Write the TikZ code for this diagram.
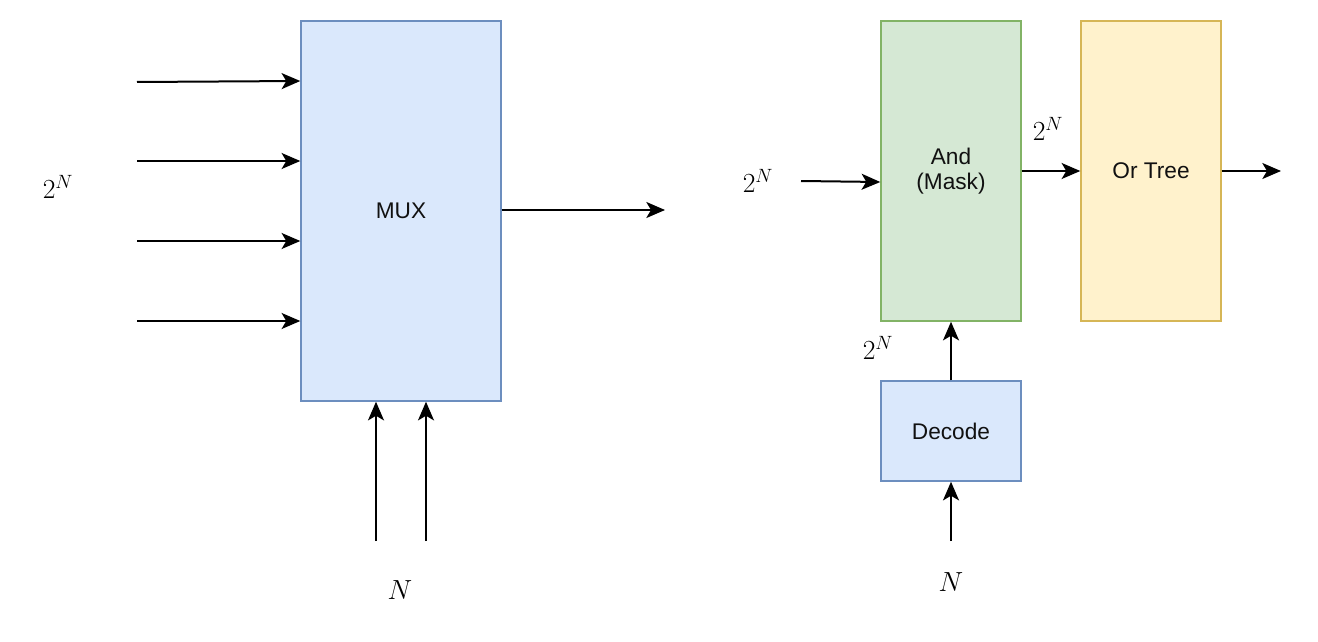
\documentclass[tikz,border=0pt]{standalone}
\usepackage{fontspec}
\setmainfont{Liberation Sans}
\usetikzlibrary{arrows.meta}
\definecolor{bluefill}{HTML}{DAE8FC}
\definecolor{bluedraw}{HTML}{6C8EBF}
\definecolor{greenfill}{HTML}{D5E8D4}
\definecolor{greendraw}{HTML}{82B366}
\definecolor{yellowfill}{HTML}{FFF2CC}
\definecolor{yellowdraw}{HTML}{D6B656}
\definecolor{txt}{HTML}{111111}
\tikzset{
  blk/.style={draw, line width=1.1pt, inner sep=0pt, align=center, text=txt,
    font=\fontsize{17}{20}\selectfont},
  bluebox/.style={blk, fill=bluefill, draw=bluedraw},
  greenbox/.style={blk, fill=greenfill, draw=greendraw},
  yellowbox/.style={blk, fill=yellowfill, draw=yellowdraw},
  arr/.style={line width=1.5pt, -{Stealth[length=14pt,width=12pt,inset=3.5pt]}},
  mlab/.style={inner sep=0pt, font=\fontsize{21}{24}\selectfont},
  nlab/.style={inner sep=0pt, font=\fontsize{21}{24}\selectfont},
}
\begin{document}
\begin{tikzpicture}[x=0.75pt,y=-0.75pt]
\useasboundingbox (0,0) rectangle (1318,642);
% MUX
\node[bluebox, minimum width=200*0.75pt, minimum height=380*0.75pt] (mux) at (401,211) {MUX};
\coordinate (i1) at (137,82);
\coordinate (i2) at (137,161);
\coordinate (i3) at (137,241);
\coordinate (i4) at (137,321);
\draw[arr] (i1) -- (mux.west |- 0,81);
\draw[arr] (i2) -- (mux.west |- i2);
\draw[arr] (i3) -- (mux.west |- i3);
\draw[arr] (i4) -- (mux.west |- i4);
\node[mlab] (l2n) at (58,187) {$2^N$};
\coordinate (mo) at (665,210);
\draw[arr] (mux.east |- mo) -- (mo);
\coordinate (s1) at (376,541);
\coordinate (s2) at (426,541);
\draw[arr] (s1) -- (s1 |- mux.south);
\draw[arr] (s2) -- (s2 |- mux.south);
\node[nlab] (ln1) at (400,590) {$N$};
% right part
\node[greenbox, minimum width=140*0.75pt, minimum height=300*0.75pt] (and) at (951,171) {And\\[-1pt](Mask)};
\node[yellowbox, minimum width=140*0.75pt, minimum height=300*0.75pt] (or) at (1151,171) {Or Tree};
\node[bluebox, minimum width=140*0.75pt, minimum height=100*0.75pt] (dec) at (951,431) {Decode};
\coordinate (ai) at (801,181);
\draw[arr] (ai) -- (and.west |- 0,182);
\node[mlab] (l2n2) at (758,181) {$2^N$};
\draw[arr] (and.east |- 0,171) -- (or.west |- 0,171);
\node[mlab] (l2n3) at (1048,129) {$2^N$};
\coordinate (oo) at (1281,171);
\draw[arr] (or.east |- oo) -- (oo);
\draw[arr] (dec.north) -- (and.south);
\node[mlab] (l2n4) at (878,348) {$2^N$};
\coordinate (di) at (951,541);
\draw[arr] (di) -- (dec.south);
\node[nlab] (ln2) at (951,582) {$N$};
\end{tikzpicture}
\end{document}
